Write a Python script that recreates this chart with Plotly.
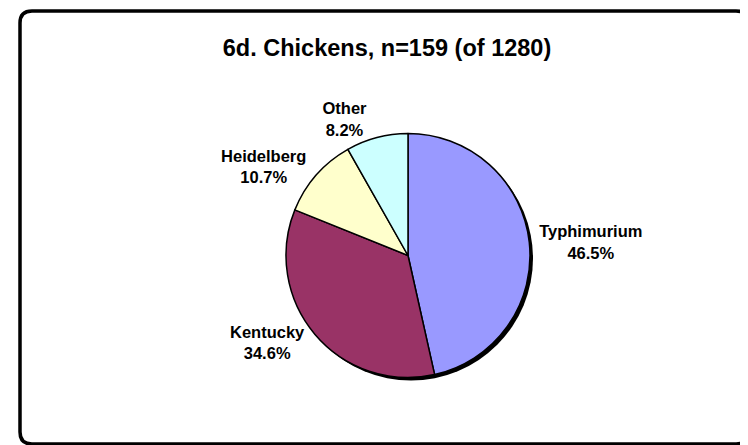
'''
Pie chart of serotypes isolated from chickens.
'''
import plotly.graph_objects as go

# data
labels = ["Typhimurium", "Kentucky", "Heidelberg", "Other"]
percents = [46.5, 34.6, 10.7, 8.2]
colors = ["#9999FF", "#993366", "#FFFFCC", "#CCFFFF"]
title = "6d. Chickens, n=159 (of 1280)"

# the page body adds an 8px margin; keep the figure inside the 748x445 window
OFF = 8
W, H = 748 - OFF, 445 - OFF

def px_x(x):
    return (x - OFF) / W

def px_y(y):
    return 1 - (y - OFF) / H

# pie centre and radius in (screen) pixels
cx, cy, r = 408, 255.5, 122
shadow = 3

domain = dict(x=[px_x(cx - r), px_x(cx + r)], y=[px_y(cy + r), px_y(cy - r)])

fig = go.Figure()
fig.add_trace(go.Pie(
    labels=labels,
    values=percents,
    sort=False,
    direction="clockwise",
    rotation=0,
    domain=domain,
    marker=dict(colors=colors, line=dict(color="black", width=1.5)),
    texttemplate="%{label}<br>%{value:.1f}%",
    textposition="outside",
    outsidetextfont=dict(family="Arial, Liberation Sans", size=16.5, color="black", weight="bold"),
    hoverinfo="label+percent",
    showlegend=False,
    automargin=False,
))

shapes = [
    # drop shadow behind the pie
    dict(type="circle", xref="paper", yref="paper", layer="below",
         x0=px_x(cx - r + shadow), x1=px_x(cx + r + shadow),
         y0=px_y(cy + r + shadow), y1=px_y(cy - r + shadow),
         fillcolor="black", line=dict(width=0)),
]

# rounded chart frame (right and bottom edges run off the page)
left, top, right, bottom, rad = 20, 11, 748, 444, 12
path = (f"M {px_x(left)},{px_y(top + rad)} "
        f"Q {px_x(left)},{px_y(top)} {px_x(left + rad)},{px_y(top)} "
        f"L {px_x(right - rad)},{px_y(top)} "
        f"Q {px_x(right)},{px_y(top)} {px_x(right)},{px_y(top + rad)} "
        f"L {px_x(right)},{px_y(bottom - rad)} "
        f"Q {px_x(right)},{px_y(bottom)} {px_x(right - rad)},{px_y(bottom)} "
        f"L {px_x(left + rad)},{px_y(bottom)} "
        f"Q {px_x(left)},{px_y(bottom)} {px_x(left)},{px_y(bottom - rad)} Z")
shapes.append(dict(type="path", xref="paper", yref="paper", path=path,
                   line=dict(color="black", width=3.5), layer="below"))

fig.update_layout(
    width=W,
    height=H,
    margin=dict(l=0, r=0, t=0, b=0),
    paper_bgcolor="white",
    plot_bgcolor="white",
    shapes=shapes,
    title=dict(
        text=title,
        x=px_x(387),
        y=px_y(48),
        xanchor="center",
        yanchor="middle",
        font=dict(family="Arial, Liberation Sans", size=23.5, color="black", weight="bold"),
    ),
)

fig.write_html("out.html")
